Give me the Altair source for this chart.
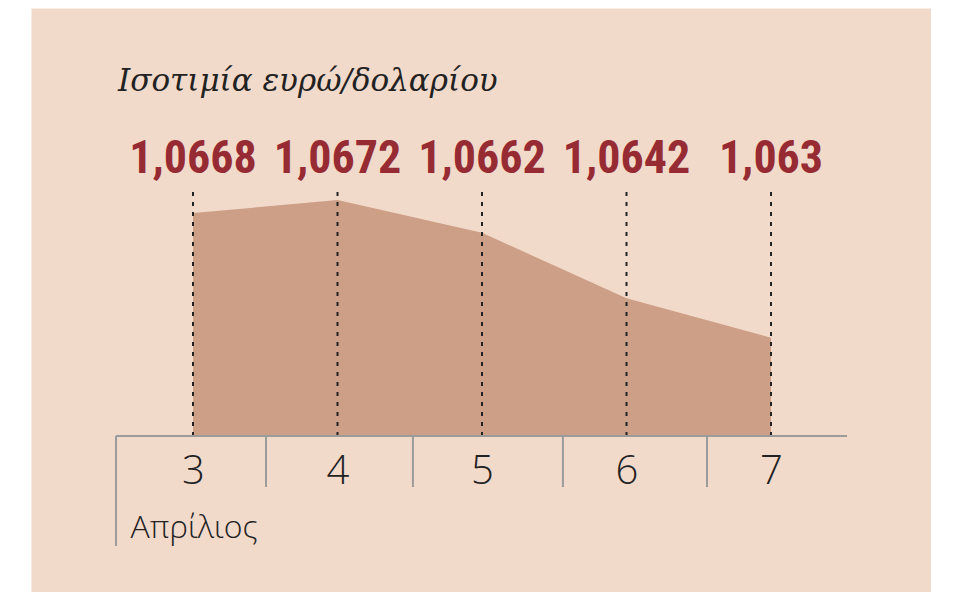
import altair as alt
import pandas as pd

# ---- data ----
days = [3, 4, 5, 6, 7]
rates = [1.0668, 1.0672, 1.0662, 1.0642, 1.063]
rate_labels = ["1,0668", "1,0672", "1,0662", "1,0642", "1,063"]
separators = [3.505, 4.522, 5.56, 6.557]   # day-boundaries on the x axis
axis_start = [2.467]
axis_end = [7.526]
base_rate = 1.06
title_text = "Ισοτιμία ευρώ/δολαρίου"
month_text = "Απρίλιος"

BG = "#f2dacb"
AREA = "#cd9f86"
RED = "#972b33"
GREY = "#9b9b9b"
INK = "#222222"

df = pd.DataFrame({"day": days, "rate": rates, "label": rate_labels})
sep_df = pd.DataFrame({"day": separators})
edge_df = pd.DataFrame({"day": axis_start, "end": axis_end})

xs = alt.Scale(domain=[3, 7], range=[162, 740], nice=False)
ys = alt.Scale(domain=[1.06, 1.0672], range=[428, 192], zero=False, nice=False)

area = alt.Chart(df).mark_area(color=AREA, opacity=1).encode(
    x=alt.X("day:Q", scale=xs, axis=alt.Axis(
        values=days, format="d", ticks=False, domain=False, grid=False,
        labelFlush=False, labelOverlap=False,
        offset=-156, labelPadding=47, labelBaseline="alphabetic",
        labelFont="Open Sans", labelFontSize=40, labelFontWeight=300, labelColor=INK,
        title=month_text, titleX=99, titleY=101, titleAlign="left", titleAnchor="start",
        titleBaseline="alphabetic", titleFont="Open Sans", titleFontSize=32,
        titleFontWeight=300, titleColor=INK)),
    y=alt.Y("rate:Q", scale=ys, axis=None),
    y2=alt.datum(base_rate),
)

dashes = alt.Chart(df).mark_rule(color=INK, strokeWidth=2, strokeDash=[4, 6]).encode(
    x="day:Q",
    y=alt.datum(base_rate),
    y2=alt.value(182),
)

axis_line = alt.Chart(edge_df).mark_rule(color=GREY, strokeWidth=2).encode(
    x="day:Q", x2="end:Q", y=alt.datum(base_rate)
)

seps = alt.Chart(sep_df).mark_rule(color=GREY, strokeWidth=2).encode(
    x="day:Q", y=alt.datum(base_rate), y2=alt.value(479)
)

first_sep = alt.Chart(edge_df).mark_rule(color=GREY, strokeWidth=2).encode(
    x="day:Q", y=alt.datum(base_rate), y2=alt.value(538)
)

labels = alt.Chart(df).mark_text(
    font="Liberation Sans Narrow, Roboto Condensed, Roboto", fontSize=46,
    fontWeight="bold", color=RED, baseline="alphabetic", align="center"
).encode(x="day:Q", y=alt.value(165), text="label:N")

chart = alt.layer(area, dashes, axis_line, seps, first_sep, labels).properties(
    width=900,
    height=584,
    autosize=alt.AutoSizeParams(type="none"),
    padding={"left": 23, "top": 0, "right": 0, "bottom": 0},
    background="white",
    title=alt.TitleParams(
        title_text, anchor="start", frame="group", dx=87, dy=114, offset=0,
        baseline="alphabetic", font="DejaVu Serif", fontStyle="italic",
        fontWeight="normal", fontSize=31, color=INK),
).configure_view(fill=BG, stroke="transparent")

chart.save("out.html", embed_options={"renderer": "svg", "actions": False})
